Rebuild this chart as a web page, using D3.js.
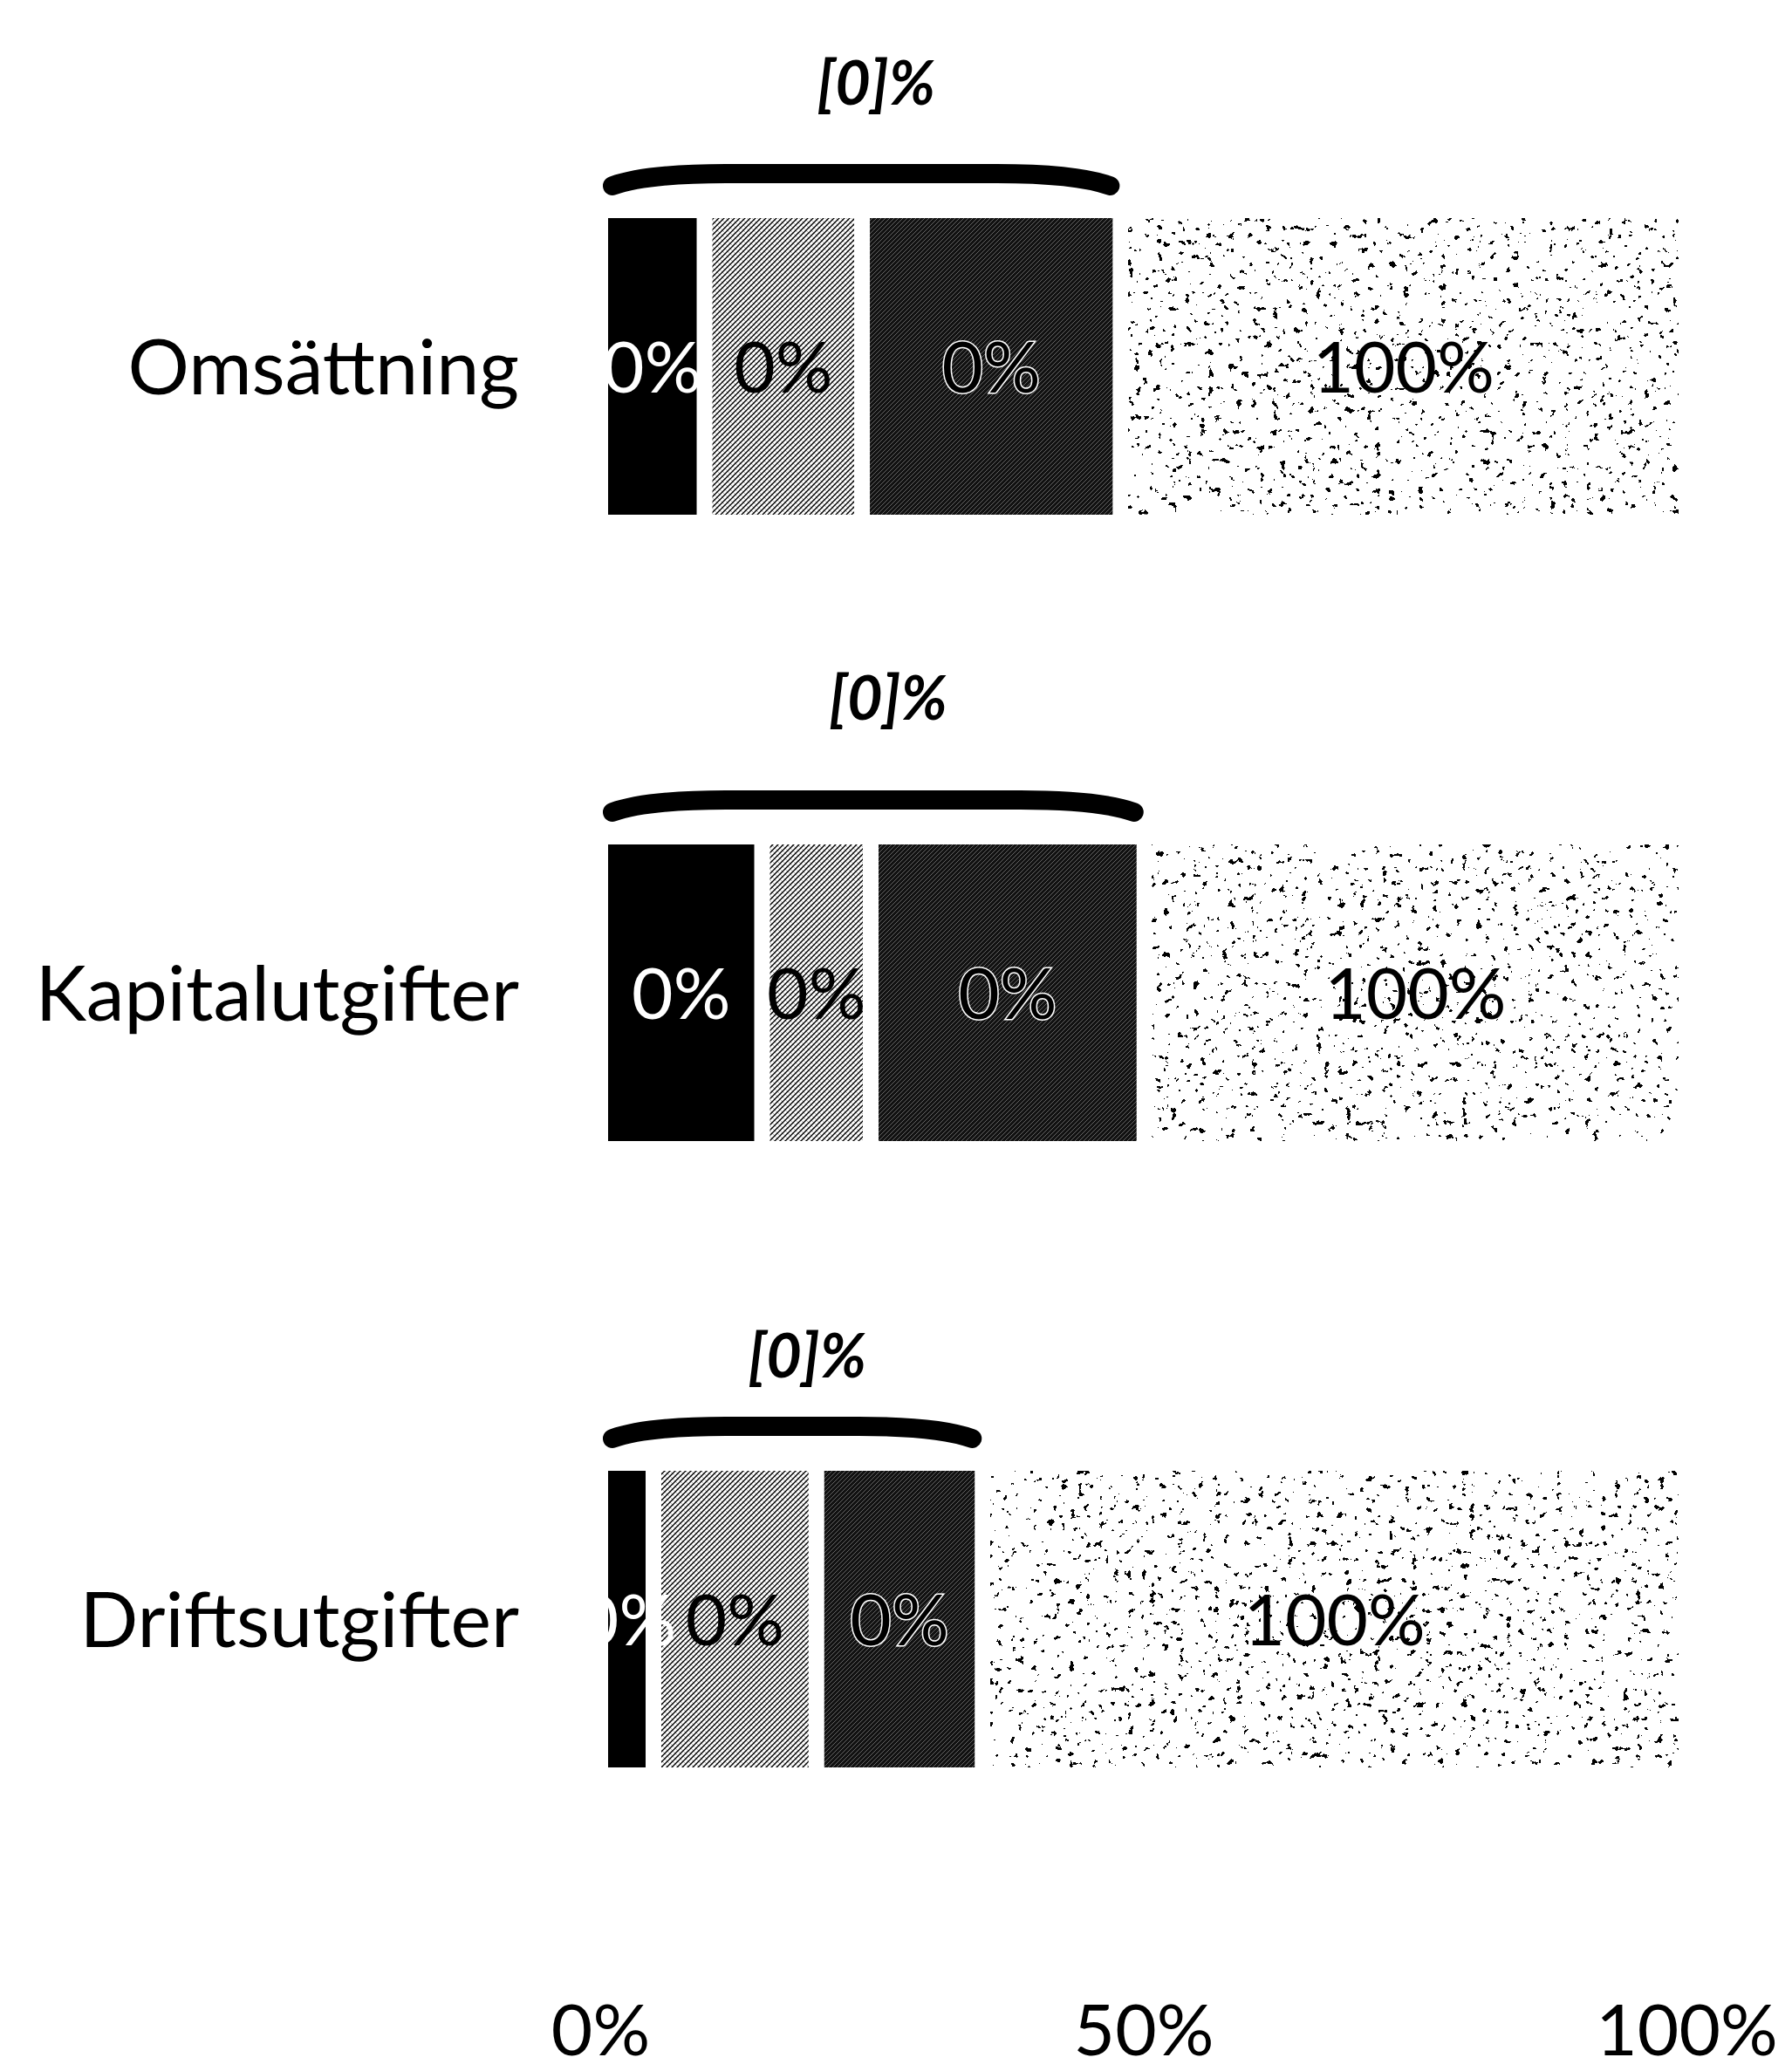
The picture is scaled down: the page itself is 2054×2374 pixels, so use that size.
<!DOCTYPE html>
<html>
<head>
<meta charset="utf-8">
<script src="https://cdn.jsdelivr.net/npm/d3@7"></script>
<style>
  html, body { margin: 0; padding: 0; background: #fff; }
  svg { display: block; }
  text { font-family: "Lato", "Open Sans", sans-serif; }
</style>
</head>
<body>
<div id="chart"></div>
<script>
// ---------------- data ----------------
const categories = ["Omsättning", "Kapitalutgifter", "Driftsutgifter"];
const seriesKeys = ["del1", "del2", "del3", "del4"];
const series1 = [9.6, 14.9, 4.9];
const series2 = [14.5, 10.0, 15.0];
const series3 = [23.8, 25.2, 15.3];
const series4 = [52.1, 49.9, 64.8];
const segmentLabels = ["0%", "0%", "0%", "100%"];
const braceLabel = "[0]%";
const tickValues = [0, 50, 100];
const tickLabels = ["0%", "50%", "100%"];

// ---------------- layout ----------------
const W = 2054, H = 2374;
const GAP = 18;                 // white separation between segments
const braceLift = [155, 168, 132]; // label height above each bar (layout)

const rows = categories.map((c, i) => ({
  category: c,
  del1: series1[i], del2: series2[i], del3: series3[i], del4: series4[i]
}));
const stacked = d3.stack().keys(seriesKeys)(rows);

const svg = d3.select("#chart").append("svg")
  .attr("width", W).attr("height", H)
  .attr("viewBox", `0 0 ${W} ${H}`);

svg.append("rect").attr("width", W).attr("height", H).attr("fill", "#fff");

const x = d3.scaleLinear().domain([0, 100]).range([688, 1933]);
const y = d3.scaleBand().domain(categories).range([61, 2215])
  .paddingInner(0.5014).paddingOuter(0.2507);

// ---------------- textures ----------------
const defs = svg.append("defs");

const pLight = defs.append("pattern").attr("id", "pLight")
  .attr("patternUnits", "userSpaceOnUse").attr("width", 6).attr("height", 6);
pLight.append("rect").attr("width", 6).attr("height", 6).attr("fill", "#fff");
pLight.append("path").attr("d", "M-1,7 L7,-1 M-1,1 L1,-1 M5,7 L7,5")
  .attr("stroke", "#000").attr("stroke-width", 1.4);
pLight.append("path").attr("d", "M-1,-1 L7,7 M5,-1 L7,1 M-1,5 L1,7")
  .attr("stroke", "#000").attr("stroke-width", 0.7).attr("stroke-opacity", 0.4);

const pDark = defs.append("pattern").attr("id", "pDark")
  .attr("patternUnits", "userSpaceOnUse").attr("width", 5).attr("height", 5);
pDark.append("rect").attr("width", 5).attr("height", 5).attr("fill", "#111");
pDark.append("path").attr("d", "M-1,6 L6,-1 M-1,1 L1,-1 M4,6 L6,4")
  .attr("stroke", "#fff").attr("stroke-width", 0.8).attr("stroke-opacity", 0.45);

// speckle texture (deterministic noise, thresholded)
const fS = defs.append("filter").attr("id", "fSpeck")
  .attr("x", 0).attr("y", 0).attr("width", 1).attr("height", 1)
  .attr("color-interpolation-filters", "sRGB");
fS.append("feTurbulence").attr("type", "fractalNoise")
  .attr("baseFrequency", 0.12).attr("numOctaves", 3).attr("seed", 11).attr("result", "noise");
fS.append("feColorMatrix").attr("in", "noise").attr("type", "matrix")
  .attr("values", "0 0 0 0 0  0 0 0 0 0  0 0 0 0 0  1 0 0 0 0").attr("result", "ra");
const ct = fS.append("feComponentTransfer").attr("in", "ra").attr("result", "th");
ct.append("feFuncA").attr("type", "discrete")
  .attr("tableValues", "0 0 0 0 0 0 0 0 0 0 0 0 0 0 1 1 1 1 1 1");
fS.append("feFlood").attr("flood-color", "#000").attr("result", "blk");
fS.append("feComposite").attr("in", "blk").attr("in2", "th").attr("operator", "in").attr("result", "dots");
fS.append("feFlood").attr("flood-color", "#fff").attr("result", "wht");
const fm = fS.append("feMerge");
fm.append("feMergeNode").attr("in", "wht");
fm.append("feMergeNode").attr("in", "dots");

const fills = ["#000", "url(#pLight)", "url(#pDark)", "#fff"];
const textStyles = [
  { fill: "#fff", stroke: "none" },
  { fill: "#000", stroke: "none" },
  { fill: "#000", stroke: "#fff" },
  { fill: "#000", stroke: "none" }
];

// ---------------- bars ----------------
const layers = svg.append("g").selectAll("g.layer").data(stacked).join("g")
  .attr("class", "layer");

layers.selectAll("rect").data(d => d).join("rect")
  .attr("x", d => x(d[0]) + GAP / 2)
  .attr("width", d => Math.max(0, x(d[1]) - x(d[0]) - GAP))
  .attr("y", d => y(d.data.category) + GAP / 2)
  .attr("height", y.bandwidth() - GAP)
  .attr("fill", function () { return fills[d3.select(this.parentNode).datum().index]; })
  .attr("filter", function () {
    return d3.select(this.parentNode).datum().index === 3 ? "url(#fSpeck)" : null;
  });

// segment labels
const labelLayers = svg.append("g").selectAll("g").data(stacked).join("g");
labelLayers.selectAll("text").data(d => d.map(v => ({ v, k: d.index }))).join("text")
  .attr("x", d => (x(d.v[0]) + x(d.v[1])) / 2)
  .attr("y", d => y(d.v.data.category) + y.bandwidth() / 2)
  .attr("dy", "0.36em")
  .attr("text-anchor", "middle")
  .attr("font-size", 82)
  .attr("fill", d => textStyles[d.k].fill)
  .attr("stroke", d => textStyles[d.k].stroke)
  .attr("stroke-width", 3)
  .attr("paint-order", "stroke")
  .text(d => segmentLabels[d.k]);

// ---------------- braces over first three segments ----------------
const braceG = svg.append("g");
rows.forEach((r, i) => {
  const end = stacked[2][i][1];
  const vt = y(r.category) + GAP / 2;
  const xa = x(0) + 14, xb = x(end) - 12;
  const yF = vt - 51, yE = vt - 37;
  const L = Math.min(130, (xb - xa) / 3);
  braceG.append("path")
    .attr("d", `M${xa},${yE} Q${xa + 0.3 * L},${yF} ${xa + L},${yF} L${xb - L},${yF} Q${xb - 0.3 * L},${yF} ${xb},${yE}`)
    .attr("fill", "none").attr("stroke", "#000")
    .attr("stroke-width", 22).attr("stroke-linecap", "round");
  braceG.append("text")
    .attr("x", (x(0) + x(end)) / 2 + 18)
    .attr("y", vt - braceLift[i])
    .attr("dy", "0.36em")
    .attr("text-anchor", "middle")
    .attr("font-size", 70).attr("font-weight", 700).attr("font-style", "italic")
    .attr("fill", "#000")
    .text(braceLabel);
});

// ---------------- category labels ----------------
svg.append("g").selectAll("text").data(categories).join("text")
  .attr("x", x(0) - 93)
  .attr("y", d => y(d) + y.bandwidth() / 2)
  .attr("dy", "0.36em")
  .attr("text-anchor", "end")
  .attr("font-size", 88)
  .attr("fill", "#000")
  .text(d => d);

// ---------------- x axis ----------------
const axisG = svg.append("g").attr("transform", `translate(0,${y.range()[1]})`)
  .call(d3.axisBottom(x).tickValues(tickValues)
    .tickFormat((d, i) => tickLabels[i]).tickSize(0));
axisG.select(".domain").remove();
axisG.selectAll("text")
  .attr("y", 141).attr("dy", 0)
  .attr("font-size", 82)
  .attr("font-family", "Lato, sans-serif")
  .attr("fill", "#000");
</script>
</body>
</html>
